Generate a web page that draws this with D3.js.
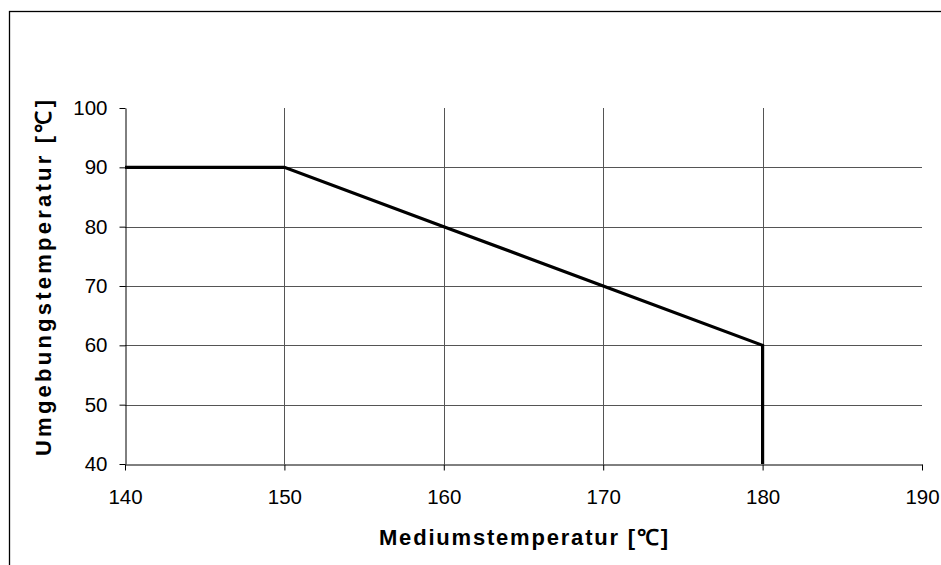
<!DOCTYPE html>
<html>
<head>
<meta charset="utf-8">
<script src="https://cdn.jsdelivr.net/npm/d3@7"></script>
<style>
html,body{margin:0;padding:0;background:#fff;}
svg{display:block;}
text{font-family:Arial,"Liberation Sans",sans-serif;fill:#000;}
</style>
</head>
<body>
<svg id="chart" width="941" height="565"></svg>
<script>
const mediumTemp = [140, 150, 160, 170, 180, 180];
const ambientTemp = [90, 90, 80, 70, 60, 40];
const xTicks = [140, 150, 160, 170, 180, 190];
const yTicks = [40, 50, 60, 70, 80, 90, 100];
const xTitle = "Mediumstemperatur [℃]";
const yTitle = "Umgebungstemperatur [℃]";

const svg = d3.select("#chart");
const m = {left: 125, right: 922, top: 108, bottom: 464};

// outer frame (extends beyond the viewport)
svg.append("rect").attr("x", 9.5).attr("y", 11.5).attr("width", 1000).attr("height", 1000)
  .attr("fill", "none").attr("stroke", "#000").attr("stroke-width", 1.3);

const x = d3.scaleLinear().domain([140, 190]).range([m.left, m.right]);
const y = d3.scaleLinear().domain([40, 100]).range([m.bottom, m.top]);

// gridlines
svg.append("g").selectAll("line").data(yTicks.filter(v => v > 40 && v < 100)).join("line")
  .attr("x1", m.left).attr("x2", m.right)
  .attr("y1", d => Math.round(y(d)) + 0.5).attr("y2", d => Math.round(y(d)) + 0.5)
  .attr("stroke", "#555").attr("stroke-width", 1);
svg.append("g").selectAll("line").data(xTicks.filter(v => v > 140 && v < 190)).join("line")
  .attr("y1", m.top).attr("y2", m.bottom)
  .attr("x1", d => Math.round(x(d)) + 0.5).attr("x2", d => Math.round(x(d)) + 0.5)
  .attr("stroke", "#555").attr("stroke-width", 1);

// axes
const xAxis = d3.axisBottom(x).tickValues(xTicks).tickSizeInner(6).tickSizeOuter(0).tickPadding(19);
const yAxis = d3.axisLeft(y).tickValues(yTicks).tickSizeInner(6).tickSizeOuter(0).tickPadding(12);
const gx = svg.append("g").attr("transform", `translate(0,${m.bottom + 0.5})`).call(xAxis);
const gy = svg.append("g").attr("transform", `translate(${m.left + 0.5},0)`).call(yAxis);
[gx, gy].forEach(g => {
  g.select(".domain").attr("stroke", "#000").attr("stroke-width", 1);
  g.selectAll(".tick line").attr("stroke", "#000");
  g.selectAll(".tick text").attr("font-size", 20.5).attr("font-family", "Arial, 'Liberation Sans', sans-serif").attr("fill", "#000");
});

// data line
const line = d3.line().x((d, i) => x(mediumTemp[i])).y((d, i) => y(ambientTemp[i]));
svg.append("path").datum(mediumTemp).attr("d", line)
  .attr("fill", "none").attr("stroke", "#000").attr("stroke-width", 3.2).attr("stroke-linejoin", "miter");

// titles
svg.append("text").attr("x", (m.left + m.right) / 2).attr("y", 545)
  .attr("text-anchor", "middle").attr("font-size", 22).attr("font-weight", "bold")
  .attr("textLength", 289).attr("lengthAdjust", "spacing").text(xTitle);
svg.append("text").attr("transform", `translate(51,278) rotate(-90)`)
  .attr("text-anchor", "middle").attr("font-size", 22).attr("font-weight", "bold")
  .attr("textLength", 356).attr("lengthAdjust", "spacing").text(yTitle);
</script>
</body>
</html>
